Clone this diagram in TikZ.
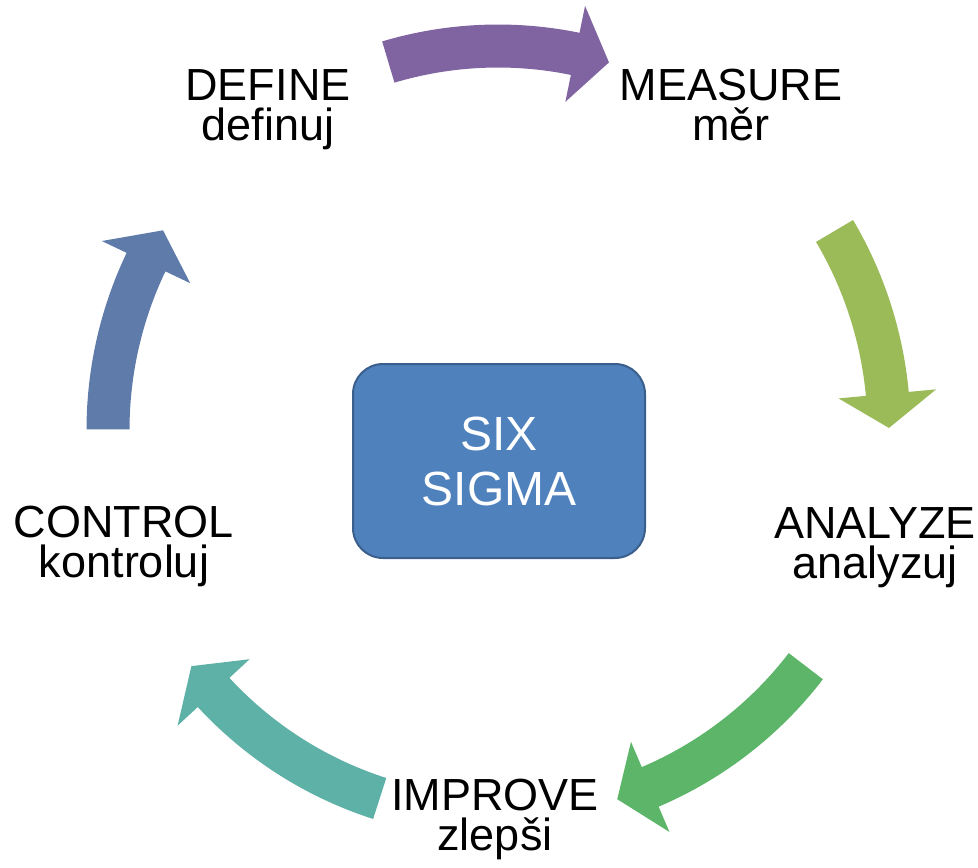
\documentclass[tikz,border=0pt]{standalone}
\usepackage{fontspec}
\setmainfont{Liberation Sans}
\definecolor{cpurple}{HTML}{8064A2}
\definecolor{clgreen}{HTML}{9BBB59}
\definecolor{cgreen}{HTML}{5CB568}
\definecolor{cteal}{HTML}{5EB1A6}
\definecolor{cblue}{HTML}{5F7BAA}
\definecolor{boxfill}{HTML}{4F81BD}
\definecolor{boxline}{HTML}{3A5F8C}
% arrow along a circle: colour, mid radius, tail angle, head base angle, tip angle
\newcommand{\sigmaarrow}[5]{%
  \pgfmathsetmacro\aro{#2+21.5}%
  \pgfmathsetmacro\ari{#2-21.5}%
  \pgfmathsetmacro\aho{#2+49}%
  \pgfmathsetmacro\ahi{#2-49}%
  \fill[#1] (#3:\aro pt) arc[start angle=#3, end angle=#4, radius=\aro pt]
    -- (#4:\aho pt) -- (#5:#2pt) -- (#4:\ahi pt) -- (#4:\ari pt)
    arc[start angle=#4, end angle=#3, radius=\ari pt] -- cycle;}
\begin{document}
\begin{tikzpicture}[x=1pt,y=1pt,
  lbl/.style={font=\fontsize{45}{40}\selectfont, anchor=base, inner sep=0pt,
    text=black, align=center},
  centerbox/.style={draw=boxline, fill=boxfill, line width=2pt, rounded corners=30pt,
    minimum width=292pt, minimum height=194pt, inner sep=0pt, align=center,
    text=white, font=\fontsize{48}{55}\selectfont}]
\useasboundingbox (0,0) rectangle (978,-868);
\coordinate (C) at (498,-430);
\begin{scope}[shift={(C)}]
  \sigmaarrow{cpurple}{384}{106.6}{78.4}{73.2}
  \sigmaarrow{clgreen}{391}{30.6}{5.3}{0.3}
  \sigmaarrow{cgreen}{388}{-37.5}{-66.9}{-72.1}
  \sigmaarrow{cteal}{387}{-107.8}{-137.3}{-142.4}
  \sigmaarrow{cblue}{390}{179.9}{154.5}{149.2}
\end{scope}
\node[centerbox] (box) at (499,-461) {SIX\\SIGMA};
% base anchor of a two-line node is the baseline of its last line
\node[lbl] (define) at (268,-140) {DEFINE\\definuj};
\node[lbl] (measure) at (731,-140) {MEASURE\\měr};
\node[lbl] (analyze) at (875,-578) {ANALYZE\\analyzuj};
\node[lbl] (improve) at (495,-850) {IMPROVE\\zlepši};
\node[lbl] (control) at (124,-577) {CONTROL\\kontroluj};
\end{tikzpicture}
\end{document}
